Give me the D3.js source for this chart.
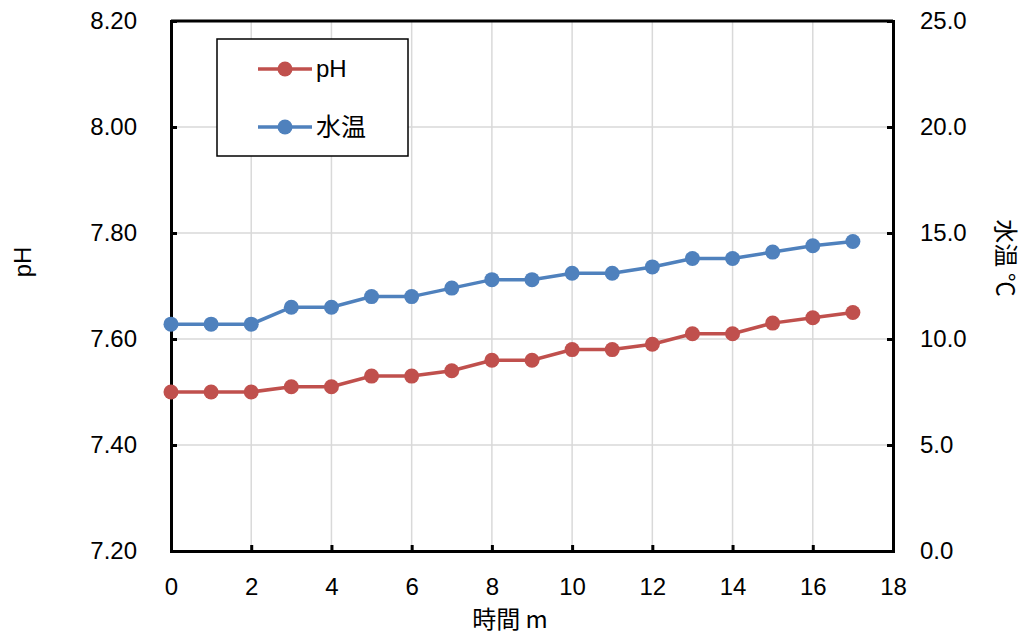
<!DOCTYPE html>
<html>
<head>
<meta charset="utf-8">
<style>
  body { margin: 0; background: #fff; }
  text { font-family: "Liberation Sans", Arial, sans-serif; fill: #000; }
  .jp { font-family: "Noto Sans CJK JP", sans-serif; }
  .grid line { stroke: #d9d9d9; stroke-width: 1.5; }
  .axis path, .axis line { stroke: #000; }
  .axis path { stroke-width: 3; }
  .axis line { stroke-width: 3; }
</style>
</head>
<body>
<svg width="1027" height="637"></svg>
<script src="https://cdnjs.cloudflare.com/ajax/libs/d3/7.8.5/d3.min.js"></script>
<script>
// minutes
var minutes = [0, 1, 2, 3, 4, 5, 6, 7, 8, 9, 10, 11, 12, 13, 14, 15, 16, 17];
var phValues = [7.50, 7.50, 7.50, 7.51, 7.51, 7.53, 7.53, 7.54, 7.56, 7.56, 7.58, 7.58, 7.59, 7.61, 7.61, 7.63, 7.64, 7.65];
var tempValues = [10.7, 10.7, 10.7, 11.5, 11.5, 12.0, 12.0, 12.4, 12.8, 12.8, 13.1, 13.1, 13.4, 13.8, 13.8, 14.1, 14.4, 14.6];
var xTicks = [0, 2, 4, 6, 8, 10, 12, 14, 16, 18];
var phTicks = [7.20, 7.40, 7.60, 7.80, 8.00, 8.20];
var tempTicks = [0, 5, 10, 15, 20, 25];
var seriesNames = ["pH", "水温"];

var svg = d3.select("svg");
var plotL = 171, plotR = 893, plotT = 21, plotB = 551;
var red = "#c0504d", blue = "#4f81bd";

var x = d3.scaleLinear().domain([0, 18]).range([plotL, plotR]);
var yPh = d3.scaleLinear().domain([7.2, 8.2]).range([plotB, plotT]);
var yTemp = d3.scaleLinear().domain([0, 25]).range([plotB, plotT]);

// gridlines
var grid = svg.append("g").attr("class", "grid");
grid.selectAll(".v").data(xTicks.slice(1, -1)).enter().append("line")
    .attr("x1", d => x(d)).attr("x2", d => x(d))
    .attr("y1", plotT).attr("y2", plotB);
grid.selectAll(".h").data(phTicks.slice(1, -1)).enter().append("line")
    .attr("x1", plotL).attr("x2", plotR)
    .attr("y1", d => yPh(d)).attr("y2", d => yPh(d));

// top border
svg.append("line").attr("x1", plotL).attr("x2", plotR).attr("y1", plotT).attr("y2", plotT)
    .attr("stroke", "#000").attr("stroke-width", 3);

var fs = "24px";

var gx = svg.append("g").attr("class", "axis")
    .attr("transform", "translate(0," + plotB + ")")
    .call(d3.axisBottom(x).tickValues(xTicks).tickSize(-6).tickSizeOuter(0).tickPadding(27).tickFormat(d3.format("d")));

var gl = svg.append("g").attr("class", "axis")
    .attr("transform", "translate(" + plotL + ",0)")
    .call(d3.axisLeft(yPh).tickValues(phTicks).tickSize(-6).tickSizeOuter(0).tickPadding(34).tickFormat(d3.format(".2f")));

var gr = svg.append("g").attr("class", "axis")
    .attr("transform", "translate(" + plotR + ",0)")
    .call(d3.axisRight(yTemp).tickValues(tempTicks).tickSize(-6).tickSizeOuter(0).tickPadding(27).tickFormat(d3.format(".1f")));

[gx, gl, gr].forEach(function(g) {
  g.selectAll("text").style("font-size", fs).style("font-family", "'Liberation Sans', Arial, sans-serif");
  g.select(".domain").attr("stroke-linecap", "square");
});

// lines
var phLine = d3.line().x((d, i) => x(minutes[i])).y(d => yPh(d));
var tempLine = d3.line().x((d, i) => x(minutes[i])).y(d => yTemp(d));

svg.append("path").datum(phValues).attr("d", phLine)
    .attr("fill", "none").attr("stroke", red).attr("stroke-width", 3.5);
svg.append("path").datum(tempValues).attr("d", tempLine)
    .attr("fill", "none").attr("stroke", blue).attr("stroke-width", 3.5);

svg.selectAll(".ph").data(phValues).enter().append("circle")
    .attr("cx", (d, i) => x(minutes[i])).attr("cy", d => yPh(d)).attr("r", 7.5).attr("fill", red);
svg.selectAll(".tp").data(tempValues).enter().append("circle")
    .attr("cx", (d, i) => x(minutes[i])).attr("cy", d => yTemp(d)).attr("r", 7.5).attr("fill", blue);

// axis titles
svg.append("text").attr("class", "jp").attr("x", 510).attr("y", 628)
    .attr("text-anchor", "middle").style("font-size", "24px").text("時間 m");
svg.append("text").attr("transform", "translate(31,262) rotate(-90)")
    .attr("text-anchor", "middle").style("font-size", "24px").text("pH");
svg.append("text").attr("class", "jp").attr("transform", "translate(997,258) rotate(90)")
    .attr("text-anchor", "middle").style("font-size", "24px").text("水温 ℃");

// legend
var lg = svg.append("g");
lg.append("rect").attr("x", 217).attr("y", 39).attr("width", 191).attr("height", 117)
    .attr("fill", "#fff").attr("stroke", "#000").attr("stroke-width", 1.5);
var legendColors = [red, blue];
var legendY = [69, 127];
seriesNames.forEach(function(name, i) {
  lg.append("line").attr("x1", 258).attr("x2", 312).attr("y1", legendY[i]).attr("y2", legendY[i])
      .attr("stroke", legendColors[i]).attr("stroke-width", 3.5);
  lg.append("circle").attr("cx", 285).attr("cy", legendY[i]).attr("r", 7.5).attr("fill", legendColors[i]);
  lg.append("text").attr("class", i ? "jp" : null).attr("x", 316).attr("y", legendY[i])
      .attr("dy", "0.35em").style("font-size", i ? "25px" : "24px").text(name);
});
</script>
</body>
</html>
